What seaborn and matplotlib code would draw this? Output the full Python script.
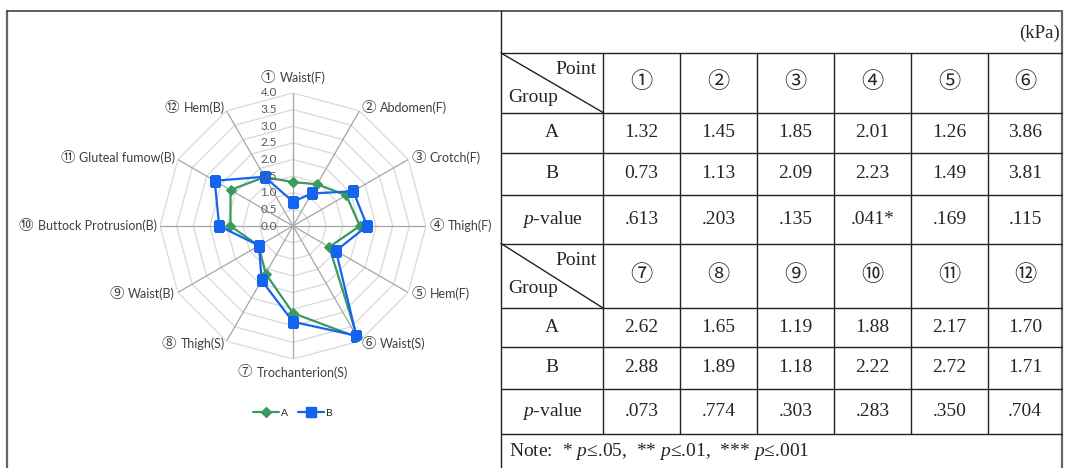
import matplotlib as mpl
mpl.use('Agg')
import matplotlib.pyplot as plt
from matplotlib.lines import Line2D
from matplotlib.offsetbox import TextArea, HPacker, AnnotationBbox
import seaborn as sns
import numpy as np

# data
points = ['①', '②', '③', '④', '⑤', '⑥', '⑦', '⑧', '⑨', '⑩', '⑪', '⑫']
names = ['Waist(F)', 'Abdomen(F)', 'Crotch(F)', 'Thigh(F)', 'Hem(F)', 'Waist(S)',
         'Trochanterion(S)', 'Thigh(S)', 'Waist(B)', 'Buttock Protrusion(B)',
         'Gluteal fumow(B)', 'Hem(B)']
group_a = [1.32, 1.45, 1.85, 2.01, 1.26, 3.86, 2.62, 1.65, 1.19, 1.88, 2.17, 1.70]
group_b = [0.73, 1.13, 2.09, 2.23, 1.49, 3.81, 2.88, 1.89, 1.18, 2.22, 2.72, 1.71]
p_values = ['.613', '.203', '.135', '.041*', '.169', '.115',
            '.073', '.774', '.303', '.283', '.350', '.704']
r_ticks = [0.0, 0.5, 1.0, 1.5, 2.0, 2.5, 3.0, 3.5, 4.0]

col_a = '#3A9A5D'
col_b = '#1464F0'

sns.set_style('white')
plt.rcParams['font.family'] = ['Lato', 'DejaVu Sans', 'Noto Sans CJK JP']
plt.rcParams['mathtext.fontset'] = 'custom'
plt.rcParams['mathtext.rm'] = 'Liberation Serif'
plt.rcParams['mathtext.it'] = 'Liberation Serif:italic'
serif = ['Liberation Serif', 'Noto Sans CJK JP', 'DejaVu Sans']

fig = plt.figure(figsize=(10.66, 4.68), dpi=100)

# ---- frame and table, drawn in pixel coordinates ----
tb = fig.add_axes([0, 0, 1, 1])
tb.set_xlim(0, 1066)
tb.set_ylim(468, 0)
tb.axis('off')

lc = '#222222'
tb.plot([7, 7], [11, 468], color='#666666', lw=1.6)
tb.plot([7, 1062], [11, 11], color='#444444', lw=1.2)
tb.plot([1062, 1062], [11, 468], color='#666666', lw=1.6)
tb.plot([501, 501], [11, 468], color=lc, lw=1.0)

cols = [501, 603, 680, 757, 834, 911, 988, 1062]
rows = [53, 112.5, 153, 195, 243.5, 308, 347, 389, 434]
for y in rows:
    tb.plot([501, 1062], [y, y], color=lc, lw=1.0)
for x in cols[1:-1]:
    tb.plot([x, x], [53, 434], color=lc, lw=1.0)

tb.text(1060, 33, '(kPa)', ha='right', va='center', fontsize=13.5, family=serif)

fs = 14
for half in range(2):
    top = rows[half * 4]
    bot = rows[half * 4 + 1]
    tb.plot([501, 603], [top, bot], color=lc, lw=1.0)
    tb.text(597, top + 17, 'Point', ha='right', va='center', fontsize=fs, family=serif)
    tb.text(508, top + 45, 'Group', ha='left', va='center', fontsize=fs, family=serif)
    labels_row = [('A', group_a), ('B', group_b)]
    for j in range(6):
        k = half * 6 + j
        cx = (cols[j + 1] + cols[j + 2]) / 2
        tb.text(cx, (top + bot) / 2, points[k], ha='center', va='center',
                fontsize=16, family=serif)
        for m, (gname, vals) in enumerate(labels_row):
            yc = (rows[half * 4 + 1 + m] + rows[half * 4 + 2 + m]) / 2
            tb.text(cx, yc, f'{vals[k]:.2f}', ha='center', va='center',
                    fontsize=fs, family=serif)
        yc = (rows[half * 4 + 3] + rows[half * 4 + 4]) / 2
        tb.text(cx, yc, p_values[k], ha='center', va='center', fontsize=fs, family=serif)
    for m, gname in enumerate(['A', 'B']):
        yc = (rows[half * 4 + 1 + m] + rows[half * 4 + 2 + m]) / 2
        tb.text(552, yc, gname, ha='center', va='center', fontsize=fs, family=serif)
    yc = (rows[half * 4 + 3] + rows[half * 4 + 4]) / 2
    tb.text(552, yc, r'$\mathit{p}$-value', ha='center', va='center', fontsize=fs, family=serif)

tb.text(509, 452, r'Note:  * $\mathit{p}$≤.05,  ** $\mathit{p}$≤.01,  *** $\mathit{p}$≤.001',
        ha='left', va='center', fontsize=fs, family=serif)

# ---- radar chart ----
ax = fig.add_axes([160 / 1066, (468 - 226 - 133) / 468, 266 / 1066, 266 / 468],
                  projection='polar')
ax.set_facecolor('none')
ax.set_theta_zero_location('N')
ax.set_theta_direction(-1)

theta = np.deg2rad(np.arange(len(points)) * 30.0)
theta_c = np.append(theta, theta[0] + 2 * np.pi)

for r in r_ticks[1:]:
    ax.plot(theta_c, [r] * len(theta_c), color='#d9d9d9', lw=0.9, zorder=0)
for t in theta:
    ax.plot([t, t], [0, 4], color='#a6a6a6', lw=0.9, zorder=0)

sns.lineplot(x=theta_c, y=np.append(group_a, group_a[0]), ax=ax, sort=False,
             errorbar=None, color=col_a, marker='D', markersize=5,
             markeredgecolor=col_a, lw=1.6, zorder=3)
sns.lineplot(x=theta_c, y=np.append(group_b, group_b[0]), ax=ax, sort=False,
             errorbar=None, color=col_b, marker='s', markersize=6.5,
             markeredgecolor=col_b, lw=1.6, zorder=4)

ax.set_ylim(0, 4)
ax.set_xticks([])
ax.set_yticks([])
ax.grid(False)
ax.spines['polar'].set_visible(False)
ax.set_xlabel('')
ax.set_ylabel('')

for r in r_ticks:
    ax.annotate(f'{r:.1f}', xy=(0, r), xytext=(-11.5, 0), textcoords='offset points',
                ha='right', va='center', fontsize=8.5, color='#595959', zorder=5)

# category labels: larger circled number + name
for i, (pt, nm) in enumerate(zip(points, names)):
    ang = i * 30
    if ang == 0:
        align, r = (0.5, 0.5), 4.45
    elif ang == 180:
        align, r = (0.5, 0.5), 4.4
    elif ang < 180:
        align, r = (0.0, 0.5), 4.1
    else:
        align, r = (1.0, 0.5), 4.1
    box = HPacker(children=[
        TextArea(pt, textprops=dict(fontsize=10.5, color='#404040',
                                    family=['Noto Sans CJK JP', 'DejaVu Sans'])),
        TextArea(nm, textprops=dict(fontsize=9, color='#404040'))],
        align='center', pad=0, sep=3)
    ab = AnnotationBbox(box, (theta[i], r), xycoords='data', box_alignment=align,
                        frameon=False, pad=0, annotation_clip=False)
    ax.add_artist(ab)

handles = [Line2D([], [], color=col_a, marker='D', markersize=5, lw=1.6),
           Line2D([], [], color=col_b, marker='s', markersize=6.5, lw=1.6)]
fig.legend(handles, ['A', 'B'], loc='center', bbox_to_anchor=(293 / 1066, 1 - 413 / 468),
           ncol=2, frameon=False, fontsize=7.5, handlelength=2.5, handletextpad=0.2,
           columnspacing=1.0)

fig.savefig('out.png', dpi=100)
